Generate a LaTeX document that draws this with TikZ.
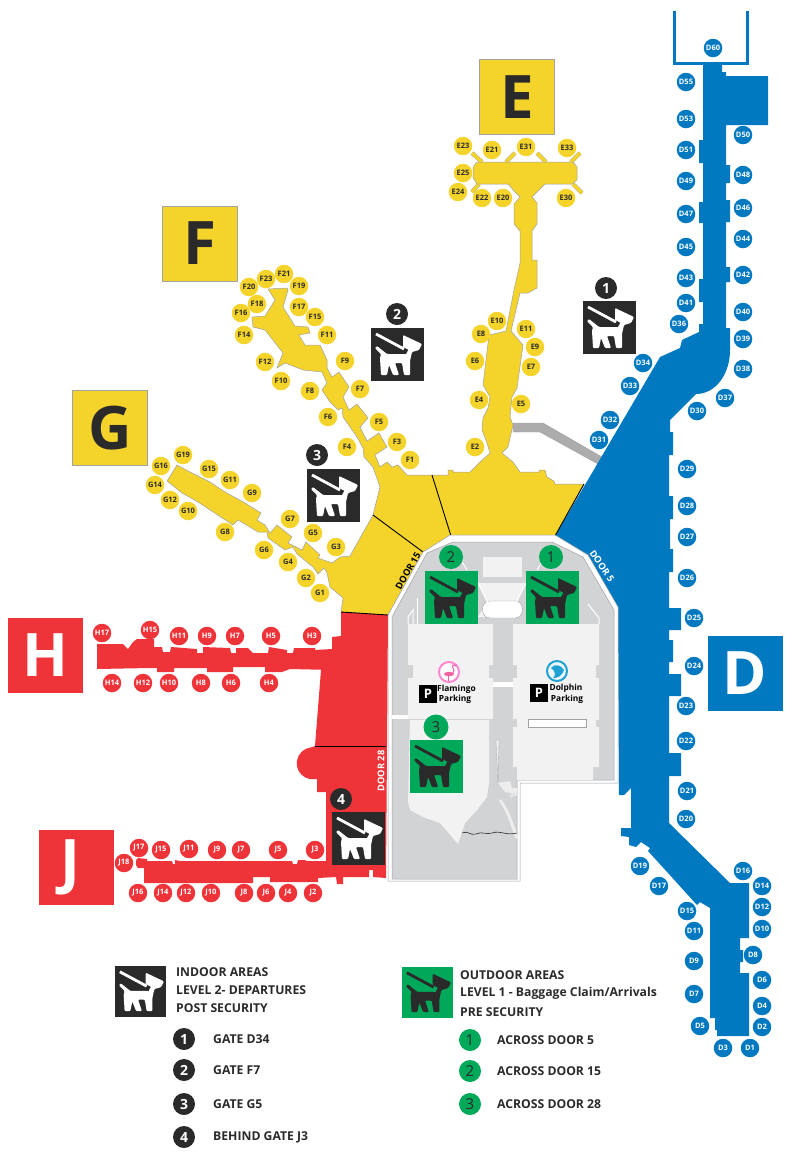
\documentclass[tikz,border=0pt]{standalone}
\usepackage{fontspec}
\setmainfont{Open Sans}
\definecolor{termyellow}{HTML}{F4D32B}
\definecolor{termred}{HTML}{EE3339}
\definecolor{termblue}{HTML}{0079C1}
\definecolor{termgreen}{HTML}{00A85A}
\definecolor{termdark}{HTML}{2B2A2B}
\definecolor{landgray}{HTML}{D1D3D4}
\definecolor{parkgray}{HTML}{F2F2F3}
\definecolor{edgegray}{HTML}{A0A2A4}
\tikzset{
    gate/.style={circle, inner sep=0pt, minimum size=18.5pt, font=\fontsize{7.5}{8}\selectfont\bfseries},
    ygate/.style={gate, fill=termyellow, text=termdark},
    rgate/.style={gate, fill=termred, text=white},
    bgate/.style={gate, fill=termblue, text=white},
    letterbox/.style={minimum size=75pt, inner sep=0pt, font=\fontsize{60}{60}\selectfont\bfseries},
    darknum/.style={circle, inner sep=0pt, minimum size=22pt, fill=termdark, text=white, font=\fontsize{14}{14}\selectfont\bfseries},
    greennum/.style={circle, inner sep=0pt, minimum size=24pt, fill=termgreen, text=termdark, font=\fontsize{15}{15}\selectfont},
    shell/.style={draw=edgegray, line width=0.5pt},
    jetway/.style={draw=edgegray, line width=0.4pt, double=termyellow, double distance=3.4pt},
    divider/.style={draw=black, line width=0.9pt},
    legendtext/.style={anchor=west, inner sep=0pt, text=termdark, font=\fontsize{12.2}{13}\selectfont\bfseries},
    doortext/.style={inner sep=0pt, font=\fontsize{9.3}{9.3}\selectfont\bfseries},
    parktext/.style={inner sep=0pt, text=black, font=\fontsize{8.4}{8.4}\selectfont\bfseries},
    pics/dogsign/.style 2 args={code={
        \fill[#1] (0,0) rectangle (53,53);
        \fill[#2, rounded corners=1pt] (4,20) -- (6,18) -- (11,22) -- (16,26) -- (35,26) -- (32,20) -- (32,7)
            -- (51,16) -- (48,22) -- (41,24) -- (39,33) -- (39,47) -- (33,47) -- (31,35) -- (24,35)
            -- (28,47) -- (22,47) -- (18,37) -- (16,47) -- (10,47) -- (9,30) -- (10,26) -- cycle;
        \draw[#1, line width=5pt] (8,9) -- (36,24);
        \draw[#2, line width=2.8pt] (5,6) -- (33,21);
    }},
}
\begin{document}
\begin{tikzpicture}[x=1pt, y=-1pt]
    \useasboundingbox (0,0) rectangle (800,1160);
    \coordinate (bluetop) at (584,484);
    \coordinate (bluelow) at (555,536);
    \coordinate (doorEtop) at (432,475);
    \coordinate (doorElow) at (451,536);
    \coordinate (doorFtop) at (373,515);
    \coordinate (doorFlow) at (423,552);
    \coordinate (redtop) at (341,612);
    \coordinate (redright) at (388,615);
    \coordinate (redmidl) at (315,746);
    \coordinate (redmidr) at (386,746);

    % walkway to D
    \fill[gray!65, draw=edgegray, line width=0.4pt] (513,423) -- (543,423) -- (602,457) -- (598,464) -- (540,432) -- (513,432) -- cycle;

    % concourse D
    \draw[termblue, line width=3pt] (674,11) -- (674,63) -- (747,63) -- (747,11);
    \fill[termblue] (703,63) -- (722,63) -- (722,72) -- (726,72) -- (726,76) -- (768,76) -- (768,125) -- (726,125)
        -- (726,165) -- (730,165) -- (730,183) -- (726,183) -- (726,200) -- (730,200) -- (730,222) -- (726,222)
        -- (726,267) -- (730,267) -- (730,282) -- (726,282) -- (726,328) -- (730,328) -- (730,350)
        .. controls (730,375) and (715,394) .. (696,394) -- (670,420) -- (670,432) -- (673,432) -- (673,455)
        -- (669,455) -- (669,496) -- (673,496) -- (673,519) -- (670,519) -- (670,549) -- (673,549) -- (673,572)
        -- (669,572) -- (669,608) -- (681,608) -- (681,630) -- (669,630) -- (669,640) -- (673,640) -- (673,662)
        -- (669,662) -- (669,674) -- (681,674) -- (681,696) -- (669,696) -- (669,753) -- (681,753) -- (681,776)
        -- (669,776) -- (669,823) -- (730,883) -- (749,883) -- (749,938) -- (740,938) -- (740,950) -- (743,950)
        -- (743,962) -- (740,962) -- (740,973) -- (749,973) -- (749,1036) -- (717,1036) -- (717,1030) -- (715,1030)
        -- (715,1018) -- (710,1018) -- (710,908) -- (700,902) -- (697,905) -- (648,851) -- (650,848) -- (641,842)
        -- (636,847) -- (629,845) -- (629,837) -- (621,836) -- (621,828) -- (631,828) -- (631,788) -- (624,795)
        -- (619,795) -- (618,607) -- (555,536) -- (660,357) -- (680,348) -- (682,340) -- (699,332) -- (699,324)
        -- (703,324) -- (703,302) -- (699,302) -- (699,279) -- (703,279) -- (703,223) -- (699,223) -- (699,202)
        -- (703,202) -- (703,163) -- (699,163) -- (699,140) -- (703,140) -- cycle;

    % concourses E, F, G and their hall
    \foreach \ax/\ay/\bx/\by in {472/153/482/162, 515/153/506/162, 537/153/546/162, 580/153/571/162, 472/192/479/184, 582/193/573/184}
        \draw[jetway] (\ax,\ay) -- (\bx,\by);
    \draw[shell, fill=termyellow] (477,162) -- (573,162) -- (577,167) -- (577,180) -- (572,184) -- (545,184) -- (537,192)
        -- (532,197) -- (537,203) -- (537,224) -- (532,231) -- (532,260) -- (537,260) -- (537,288) -- (528,293)
        -- (520,293) -- (511,331) -- (523,345) -- (517,388) -- (512,397) -- (510,417) -- (513,425) -- (508,447)
        -- (502,453) -- (513,462) -- (520,472) -- (539,472) -- (539,470) -- (545,470) -- (547,477) -- (554,481)
        -- (555,484) -- (bluetop) -- (bluelow) -- (doorElow) -- (doorFlow) -- (redright) -- (redtop) -- (343,598)
        -- (330,587) -- (327,573) -- (324,568) -- (318,574) -- (313,567) -- (297,554) -- (293,547) -- (285,550)
        -- (268,538) -- (267,532) -- (258,532) -- (238,520) -- (233,525) -- (207,508) -- (198,502) -- (182,493)
        -- (167,481) -- (177,465) -- (190,472) -- (210,482) -- (225,492) -- (245,503) -- (261,513) -- (257,520)
        -- (265,525) -- (270,533) -- (277,525) -- (292,537) -- (288,543) -- (302,550) -- (306,542) -- (320,555)
        -- (318,558) -- (332,563) -- (340,557) -- (350,556) -- (doorFtop) -- (380,487) -- (374,470) -- (373,467)
        -- (364,457) -- (363,448) -- (357,437) -- (343,417) -- (342,408) -- (338,410) -- (330,402) -- (322,390)
        -- (327,383) -- (322,372) -- (303,370) -- (285,363) -- (277,368) -- (283,353) -- (265,330) -- (253,327)
        -- (252,317) -- (265,316) -- (275,300) -- (268,289) -- (287,288) -- (288,290) -- (283,307) -- (295,326)
        -- (308,327) -- (310,333) -- (299,335) -- (305,345) -- (320,345) -- (327,360) -- (327,368) -- (332,377)
        -- (339,372) -- (349,387) -- (343,397) -- (349,410) -- (357,404) -- (368,418) -- (360,427) -- (367,441)
        -- (379,433) -- (387,447) -- (375,455) -- (380,467) -- (387,462) -- (392,467) -- (398,465) -- (407,475)
        -- (448,475) -- (448,470) -- (453,470) -- (453,472) -- (470,472) -- (480,462) -- (490,453) -- (487,443)
        -- (482,430) -- (483,418) -- (488,408) -- (490,397) -- (483,385) -- (489,335) -- (506,331) -- (514,290)
        -- (520,263) -- (520,231) -- (514,224) -- (514,204) -- (520,197) -- (515,192) -- (508,184) -- (477,184)
        -- (473,178) -- (473,167) -- cycle;

    % concourses H and J
    \fill[termred] (redtop) -- (redright) -- (386,878) -- (373,877) -- (373,870) -- (369,870) -- (369,877) -- (343,877)
        -- (343,884) -- (337,884) -- (336,877) -- (318,878) -- (318,882) -- (270,882) -- (270,877) -- (253,877)
        -- (253,883) -- (144,883) -- (144,868) -- (138,868) .. controls (135,866) and (135,859) .. (138,858)
        -- (147,859) -- (147,861) -- (172,861) -- (173,864) -- (175,864) -- (175,860) -- (180,861) -- (292,861)
        -- (293,864) -- (297,864) -- (298,860) -- (304,860) -- (308,861) -- (326,861) -- (326,792) -- (317,792)
        -- (317,779) -- (310,779) arc (100:265:16) -- (redmidl) -- (321,670) -- (332,670) -- (290,669) -- (282,672)
        -- (265,672) -- (265,667) -- (233,667) -- (233,672) -- (207,672) -- (207,668) -- (174,668) -- (174,672)
        -- (157,672) -- (157,668) -- (150,668) -- (97,669) -- (97,644) -- (123,644) -- (128,649) -- (133,642)
        -- (137,639) -- (154,639) -- (154,647) -- (162,647) -- (163,652) -- (170,652) -- (171,647) -- (197,649)
        -- (197,653) -- (203,653) -- (203,647) -- (230,648) -- (231,653) -- (236,653) -- (236,648) -- (248,648)
        -- (253,653) -- (268,653) -- (269,647) -- (287,650) -- (287,653) -- (293,653) -- (294,648) -- (315,648)
        -- (315,650) -- (332,649) -- (332,637) -- (341,636) -- cycle;

    \draw[divider] (bluetop) -- (bluelow);
    \draw[divider] (doorEtop) -- (doorElow);
    \draw[divider] (doorFtop) -- (doorFlow);
    \draw[divider] (redtop) -- (redright);
    \draw[divider] (redmidl) -- (redmidr);

    % central building with the parking
    \draw[shell, fill=white] (388,615) -- (423,552) -- (450,535) -- (555,535) -- (588,555) -- (618,607) -- (618,783)
        -- (520,783) -- (520,881) -- (388,881) -- cycle;
    \draw[shell, fill=landgray] (392,617) -- (427,553) -- (453,542) -- (552,542) -- (583,557) -- (614,610) -- (614,780)
        -- (517,780) -- (517,879) -- (392,879) -- cycle;
    \fill[white] (392,715) rectangle (408,719);
    \fill[white] (493,682) rectangle (513,687);
    \fill[parkgray] (408,624) -- (493,624) -- (493,665) -- (489,665) -- (489,678) -- (493,678) -- (493,719) -- (408,719)
        -- (408,678) -- (413,678) -- (413,665) -- (408,665) -- cycle;
    \fill[parkgray] (410,720) -- (489,720) -- (489,783) -- (487,797) -- (477,810) -- (465,823) -- (458,844) -- (452,837)
        -- (440,823) -- (423,817) -- (410,810) -- (408,802) -- cycle;
    \fill[parkgray] (513,624) -- (599,624) -- (599,665) -- (596,665) -- (596,678) -- (599,678) -- (599,720) -- (596,720)
        -- (596,727) -- (599,727) -- (599,767) -- (593,767) -- (593,780) -- (517,780) -- (517,767) -- (513,767)
        -- (513,727) -- (517,727) -- (517,719) -- (513,719) -- (513,678) -- (517,678) -- (517,665) -- (513,665) -- cycle;
    \draw[edgegray, fill=white, line width=0.4pt] (528,719) rectangle (586,727);

    % roads at the front of the terminal
    \fill[parkgray] (483,557) rectangle (522,577);
    \fill[parkgray] (478,583) -- (526,583) -- (517,602) -- (517,617) -- (478,617) -- (487,602) -- cycle;
    \draw[edgegray, fill=white, line width=0.4pt] (490,601) -- (515,601) .. controls (525,601) and (525,618) .. (515,618)
        -- (490,618) .. controls (480,618) and (480,601) .. (490,601) -- cycle;
    \draw[white, line width=1pt] (461,560) -- (467,570);
    \draw[white, line width=1pt] (537,570) -- (543,560);
    \draw[white, line width=1pt] (478,583) -- (488,603);
    \draw[white, line width=1pt] (526,583) -- (516,603);
    \draw[white, line width=1pt] (408,624) -- (408,617) -- (413,610) -- (413,624);
    \draw[white, line width=1pt] (417,624) -- (417,598);
    \draw[white, line width=1pt] (588,604) -- (599,618) -- (599,624);
    \draw[edgegray, fill=parkgray, line width=0.3pt] (496,741) -- (498,784) -- (499,741);
    \fill[white!60!landgray] (498,783) -- (510,781) -- (512,788) -- (517,788) -- (517,794) -- (505,792) -- cycle;
    \draw[white!60!landgray, line width=3pt] (500,800) .. controls (508,810) and (512,825) .. (517,838);
    \draw[white!40!landgray, line width=3pt] (510,796) -- (517,794);
    \draw[termdark, line width=0.6pt] (462,833) .. controls (468,830) and (470,836) .. (476,834)
        .. controls (482,831) and (486,835) .. (492,833) .. controls (500,830) and (506,836) .. (517,833);

    % flamingo and dolphin marks
    \draw[pink!70!magenta, fill=white, line width=2pt] (449,672) circle (10);
    \fill[magenta!50!pink] (449,674) ellipse (5 and 2.2);
    \draw[magenta!50!pink, line width=1pt] (453,673) .. controls (456,669) and (451,668) .. (453,665) -- (456,666);
    \draw[magenta!50!pink, line width=0.5pt] (448,675) -- (448,681);
    \draw[cyan!70!teal, fill=cyan!8, line width=2pt] (557,671) circle (10);
    \fill[cyan!70!teal] (551,668) .. controls (555,663) and (561,665) .. (564,670) .. controls (562,676) and (558,678) .. (553,678)
        .. controls (556,675) and (556,672) .. (551,668) -- cycle;
    \node[fill=black, text=white, minimum size=18pt, inner sep=0pt, font=\fontsize{13}{13}\selectfont\bfseries] (parkF) at (428,694) {P};
    \node[fill=black, text=white, minimum size=18pt, inner sep=0pt, font=\fontsize{13}{13}\selectfont\bfseries] (parkD) at (539,693) {P};
    \node[parktext] (parkFname) at (456.5,689) {Flamingo};
    \node[parktext] (parkFsub) at (455,699) {Parking};
    \node[parktext] (parkDname) at (566,688) {Dolphin};
    \node[parktext] (parkDsub) at (567,699) {Parking};

    % door labels
    \node[doortext, text=black, rotate=60] (door15) at (408,571) {DOOR 15};
    \node[doortext, text=white, rotate=-55] (door5) at (602,566) {DOOR 5};
    \node[doortext, text=white, rotate=90] (door28) at (381,771) {DOOR 28};

    % concourse letters
    \node[letterbox, fill=termyellow, draw=edgegray, line width=0.4pt, text=termdark] (letterE) at (517,97) {E};
    \node[letterbox, fill=termyellow, draw=edgegray, line width=0.4pt, text=termdark] (letterF) at (199.5,243.5) {F};
    \node[letterbox, fill=termyellow, draw=edgegray, line width=0.4pt, text=termdark] (letterG) at (110,428) {G};
    \node[letterbox, fill=termred, text=white] (letterH) at (45.5,655.5) {H};
    \node[letterbox, fill=termred, text=white] (letterJ) at (76,867.5) {\hspace*{-12pt}J};
    \node[letterbox, fill=termblue, text=white] (letterD) at (745,673.5) {D};

    % gates
    \foreach \gname/\px/\py in {E23/463/146, E21/492/150, E31/526/147, E33/567/148, E25/463/173, E24/458/192, E22/482/198, E20/503/198, E30/566/198,
        E10/497/321, E8/481/334, E11/526/329, E9/535/347, E7/531/367, E6/475/361, E4/479/400, E5/521/404, E2/475/447,
        F21/284/274, F23/266/279, F20/249/287, F19/299/286, F18/257/304, F17/299/307, F16/241/313, F15/315/317, F14/244/335, F11/327/335,
        F12/265/362, F9/345/361, F10/281/381, F8/310/391, F7/360/389, F6/328/417, F5/379/422, F4/347/447, F3/397/442, F1/410/460,
        G19/183/455, G16/161/466, G14/155/485, G15/209/469, G11/230/480, G12/170/500, G10/188/511, G9/252/493, G8/225/532,
        G7/290/519, G6/264/550, G5/313/533, G4/288/562, G3/336/547, G2/306/578, G1/320/593}
        \node[ygate] (\gname) at (\px,\py) {\gname};
    \foreach \gname/\px/\py in {H17/102/633, H15/150/630, H11/179/636, H9/207/636, H7/235/636, H5/271/636, H3/312/636,
        H14/112/683, H12/143/683, H10/169/683, H8/201/683, H6/231/683, H4/269/683,
        J17/139/848, J15/161/850, J11/189/849, J9/217/850, J7/241/850, J5/278/850, J3/315/850, J18/124/863,
        J16/138/893, J14/163/893, J12/186/893, J10/211/893, J8/244/893, J6/266/893, J4/288/893, J2/313/893}
        \node[rgate] (\gname) at (\px,\py) {\gname};
    \foreach \gname/\px/\py in {D60/713/48, D55/686/82, D53/686/119, D50/743/135, D51/686/150, D49/686/181, D48/743/175, D47/686/214, D46/743/208,
        D45/686/247, D44/743/239, D43/686/278, D42/743/275, D41/686/303, D40/743/312, D36/679/324, D39/743/339, D38/743/369,
        D34/643/363, D33/630/386, D37/725/398, D30/697/411, D32/610/420, D31/599/440, D29/687/469, D28/687/506, D27/687/537,
        D26/687/578, D25/694/618, D24/694/666, D23/686/706, D22/686/741, D21/687/791, D20/686/819, D19/640/866, D17/659/886,
        D16/743/871, D14/762/886, D15/687/911, D12/762/907, D10/762/929, D11/694/931, D8/753/955, D9/694/961, D6/762/980,
        D7/694/994, D4/762/1006, D5/700/1026, D2/762/1027, D3/723/1048, D1/750/1048}
        \node[bgate] (\gname) at (\px,\py) {\gname};

    % relief areas
    \pic (signA) at (583,301) {dogsign={termdark}{white}};
    \pic (signB) at (371,328) {dogsign={termdark}{white}};
    \pic (signC) at (307,469) {dogsign={termdark}{white}};
    \pic (signD) at (332,812) {dogsign={termdark}{white}};
    \pic (signE) at (526,571) {dogsign={termgreen}{termdark}};
    \pic (signF) at (425,571) {dogsign={termgreen}{termdark}};
    \pic (signG) at (410,740) {dogsign={termgreen}{termdark}};
    \node[darknum] (numA) at (606,288) {1};
    \node[darknum] (numB) at (397,314) {2};
    \node[darknum] (numC) at (317,455) {3};
    \node[darknum] (numD) at (341,799) {4};
    \node[greennum] (numE) at (551,557) {1};
    \node[greennum] (numF) at (451,557) {2};
    \node[greennum, minimum size=25pt] (numG) at (436,727) {3};

    % legend
    \pic[scale=0.96] (legendA) at (115,966) {dogsign={termdark}{white}};
    \pic[scale=0.96] (legendB) at (402,967) {dogsign={termgreen}{termdark}};
    \node[legendtext] (indoorA) at (176,972) {INDOOR AREAS};
    \node[legendtext] (indoorB) at (176,990) {LEVEL 2- DEPARTURES};
    \node[legendtext] (indoorC) at (176,1008) {POST SECURITY};
    \node[legendtext] (outdoorA) at (460,975) {OUTDOOR AREAS};
    \node[legendtext] (outdoorB) at (460,993) {LEVEL 1 - Baggage Claim/Arrivals};
    \node[legendtext] (outdoorC) at (460,1012) {PRE SECURITY};
    \foreach \num/\py/\what in {1/1039/GATE D34, 2/1070/GATE F7, 3/1104/GATE G5, 4/1137/BEHIND GATE J3} {
        \node[darknum] (keyD\num) at (184,\py) {\num};
        \node[legendtext] (keyDtext\num) at (213,\py) {\what};
    }
    \foreach \num/\py/\what in {1/1040/ACROSS DOOR 5, 2/1071/ACROSS DOOR 15, 3/1104/ACROSS DOOR 28} {
        \node[greennum, minimum size=22pt] (keyG\num) at (470,\py) {\num};
        \node[legendtext] (keyGtext\num) at (497,\py) {\what};
    }
\end{tikzpicture}
\end{document}
